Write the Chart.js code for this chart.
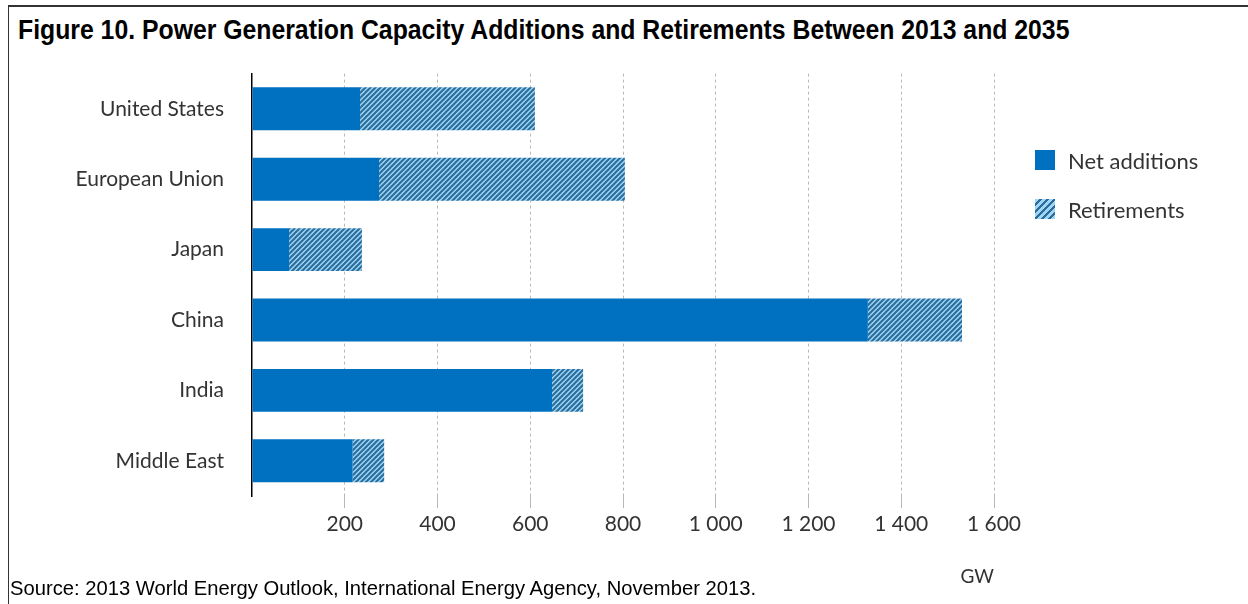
<html>
<head>
    <title>Figure 10</title>
    <style>
        body {
            margin: 0;
            background: #ffffff;
            width: 1248px;
            height: 604px;
            position: relative;
            overflow: hidden;
            font-family: "Liberation Sans Narrow", "Liberation Sans", Arial, sans-serif;
        }
        .frame-top {
            position: absolute;
            left: 8px; top: 5px; right: 0;
            height: 2px;
            background: #333;
        }
        .frame-left {
            position: absolute;
            left: 8px; top: 5px; bottom: 0;
            width: 1px;
            background: #333;
        }
        .title {
            position: absolute;
            left: 18px; top: 15px;
            font-size: 27px;
            font-weight: bold;
            color: #000;
            white-space: nowrap;
            transform: scaleX(0.918);
            transform-origin: left top;
        }
        .source {
            position: absolute;
            left: 10px; top: 576px;
            font-size: 21px;
            color: #000;
            white-space: nowrap;
            transform: scaleX(0.962);
            transform-origin: left top;
        }
        #wrap {
            position: absolute;
            left: 0; top: 33px;
            width: 1040px; height: 559px;
        }
        .legend {
            position: absolute;
            left: 1035px; top: 146px;
            font-family: Lato, sans-serif;
            font-size: 22px;
            color: #333;
        }
        .legend div {
            display: flex;
            align-items: center;
            height: 28px;
            margin-bottom: 21px;
        }
        .legend span {
            width: 20px; height: 20px;
            display: inline-block;
            margin-right: 13px;
        }
        .legend .net span { background: #0070c0; }
        .legend .ret span {
            background: repeating-linear-gradient(-45deg, #9dd5f2 0 3px, #2a6c9c 3px 5px);
        }
    </style>
</head>
<body>
    <div class="frame-top"></div>
    <div class="frame-left"></div>
    <div class="title">Figure 10. Power Generation Capacity Additions and Retirements Between 2013 and 2035</div>
    <div id="wrap"><canvas id="chart"></canvas></div>
    <div class="legend">
        <div class="net"><span></span>Net additions</div>
        <div class="ret"><span></span>Retirements</div>
    </div>
    <div class="source">Source: 2013 World Energy Outlook, International Energy Agency, November 2013.</div>

    <script src="https://cdn.jsdelivr.net/npm/chart.js"></script>
    <script>
        const regions = ['United States', 'European Union', 'Japan', 'China', 'India', 'Middle East'];
        const netAdditions = [233, 274, 80, 1328, 647, 217];
        const retirements = [377, 530, 157, 203, 67, 68];
        const xTicks = [200, 400, 600, 800, 1000, 1200, 1400, 1600];

        // diagonal hatch for retirements
        const pc = document.createElement('canvas');
        pc.width = 5; pc.height = 5;
        const p = pc.getContext('2d');
        p.fillStyle = '#9dd5f2';
        p.fillRect(0, 0, 5, 5);
        p.strokeStyle = '#2a6c9c';
        p.lineWidth = 2;
        p.beginPath();
        p.moveTo(-1, 6); p.lineTo(6, -1);
        p.moveTo(-3.5, 3.5); p.lineTo(3.5, -3.5);
        p.moveTo(1.5, 8.5); p.lineTo(8.5, 1.5);
        p.stroke();
        const ctx = document.getElementById('chart').getContext('2d');
        const hatch = ctx.createPattern(pc, 'repeat');

        const fmt = v => String(v).replace(/\B(?=(\d{3})+(?!\d))/g, ' ');

        new Chart(ctx, {
            type: 'bar',
            data: {
                labels: regions,
                datasets: [
                    { label: 'Net additions', data: netAdditions, backgroundColor: '#0070c0' },
                    { label: 'Retirements', data: retirements, backgroundColor: hatch }
                ]
            },
            options: {
                indexAxis: 'y',
                responsive: true,
                maintainAspectRatio: false,
                animation: false,
                barPercentage: 1,
                categoryPercentage: 0.61,
                layout: { padding: { top: 13, right: 46, left: 0, bottom: 0 } },
                scales: {
                    x: {
                        stacked: true,
                        min: 0,
                        max: 1600,
                        afterBuildTicks: s => { s.ticks = [0].concat(xTicks).map(v => ({ value: v })); },
                        ticks: {
                            color: '#333',
                            font: { family: 'Lato', size: 21 },
                            padding: 4,
                            maxRotation: 0,
                            callback: v => v === 0 ? '' : fmt(v)
                        },
                        grid: {
                            color: c => c.tick && c.tick.value === 0 ? 'rgba(0,0,0,0)' : '#b8b8b8',
                            lineWidth: 1,
                            tickLength: 12
                        },
                        border: { display: false, dash: [3, 3] },
                        title: {
                            display: true,
                            text: 'GW',
                            align: 'end',
                            color: '#333',
                            font: { family: 'Lato', size: 19 },
                            padding: { top: 24 }
                        }
                    },
                    y: {
                        stacked: true,
                        afterFit: s => { s.width = 252; },
                        ticks: {
                            color: '#333',
                            font: { family: 'Lato', size: 21 },
                            padding: 28
                        },
                        grid: { display: false, drawTicks: false },
                        border: { display: true, color: '#000', width: 1.5 }
                    }
                },
                plugins: {
                    legend: { display: false },
                    tooltip: { enabled: false }
                }
            }
        });
    </script>
</body>
</html>
